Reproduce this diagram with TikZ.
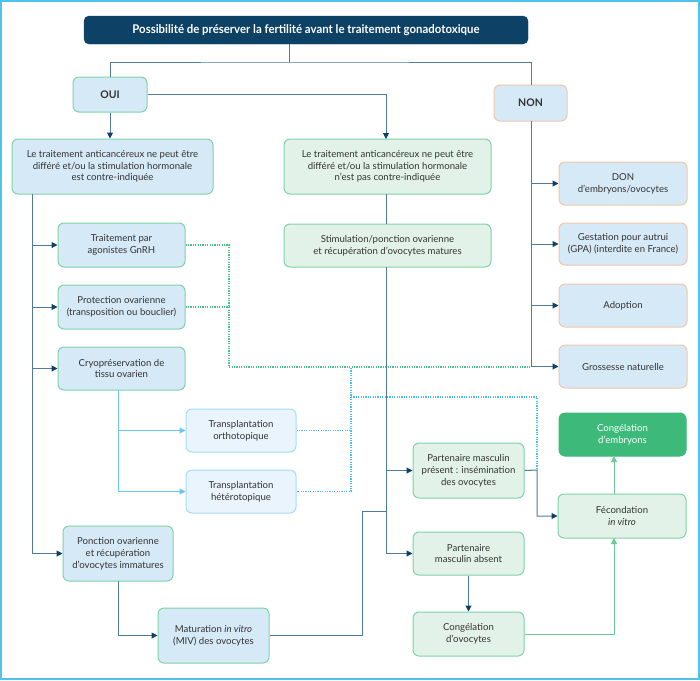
\documentclass[tikz,border=0pt]{standalone}
\usepackage{fontspec}
\setmainfont{Lato}
\usetikzlibrary{arrows.meta}
\definecolor{navy}{HTML}{0D4166}
\definecolor{steel}{HTML}{4F7A9A}
\definecolor{lblue}{HTML}{D6E9F7}
\definecolor{lgreen}{HTML}{E3F2E8}
\definecolor{bgreen}{HTML}{7DD3A5}
\definecolor{peach}{HTML}{F2C6A8}
\definecolor{pblue}{HTML}{EAF4FC}
\definecolor{pcyan}{HTML}{A3DCF5}
\definecolor{dgreen}{HTML}{3DB97A}
\definecolor{cyanln}{HTML}{6CC5EE}
\definecolor{greenln}{HTML}{6ACB98}
\definecolor{frame}{HTML}{4EC3EC}
\definecolor{gdots}{HTML}{4CC08A}
\definecolor{bdots}{HTML}{4DBDEB}
\definecolor{txt}{HTML}{333333}
\tikzset{
  box/.style={draw, rounded corners=6pt, align=center, inner sep=1pt, text=txt,
    font=\fontsize{9.6}{11.8}\selectfont, line width=1pt},
  blueg/.style={box, fill=lblue, draw=bgreen},
  greeng/.style={box, fill=lgreen, draw=bgreen},
  bluep/.style={box, fill=lblue, draw=peach},
  pale/.style={box, fill=pblue, draw=pcyan},
  ln/.style={draw=steel, line width=1pt},
  arr/.style={ln, -{Triangle[length=6pt,width=6pt,color=navy]}},
  carr/.style={draw=cyanln, line width=1pt, -{Triangle[length=6pt,width=6pt,color=cyanln]}},
  garr/.style={draw=greenln, line width=1pt, -{Triangle[length=6pt,width=6pt,color=greenln]}},
  gdot/.style={draw=gdots, line width=1.2pt, dash pattern=on 1.2pt off 1.2pt},
  bdot/.style={draw=bdots, line width=1.2pt, dash pattern=on 1.2pt off 1.2pt},
}
\begin{document}
\begin{tikzpicture}[x=1pt,y=-1pt]
\useasboundingbox (0,0) rectangle (700,680);
\draw[frame, line width=2pt] (1,1) rectangle (699,679);

\node[draw=navy, fill=navy, rounded corners=5pt, minimum width=444, minimum height=28, text=white,
  font=\fontsize{12}{14}\selectfont\bfseries] (title) at (306,30)
  {\scalebox{0.95}[1]{Possibilité de préserver la fertilité avant le traitement gonadotoxique}};

\node[blueg, minimum width=74, minimum height=35, font=\fontsize{10.5}{12}\selectfont\bfseries] (oui) at (110,94.5) {OUI};
\node[bluep, minimum width=73, minimum height=36, font=\fontsize{10.5}{12}\selectfont\bfseries] (non) at (530.5,103) {NON};

\node[blueg, minimum width=201, minimum height=55] (A) at (112.5,166.5)
  {Le traitement anticancéreux ne peut être\\différé et/ou la stimulation hormonale\\est contre-indiquée};
\node[greeng, minimum width=207, minimum height=55] (B) at (387.5,166.5)
  {Le traitement anticancéreux ne peut être\\différé et/ou la stimulation hormonale\\n’est pas contre-indiquée};

\node[blueg, minimum width=127, minimum height=44] (gnrh) at (121.5,245) {Traitement par\\agonistes GnRH};
\node[blueg, minimum width=127, minimum height=44] (prot) at (121.5,307) {Protection ovarienne\\(transposition ou bouclier)};
\node[blueg, minimum width=127, minimum height=43] (cryo) at (121.5,368.5) {Cryopréservation de\\tissu ovarien};
\node[pale, minimum width=110, minimum height=43] (ortho) at (241,430.5) {Transplantation\\orthotopique};
\node[pale, minimum width=110, minimum height=43] (hetero) at (241,491.5) {Transplantation\\hétérotopique};
\node[blueg, minimum width=110, minimum height=55] (ponc) at (118,553.5) {Ponction ovarienne\\et récupération\\d’ovocytes immatures};
\node[blueg, minimum width=111, minimum height=55] (miv) at (213.5,635.5) {Maturation \textit{in vitro}\\(MIV) des ovocytes};

\node[greeng, minimum width=207, minimum height=43] (stim) at (387.5,245.5) {Stimulation/ponction ovarienne\\et récupération d’ovocytes matures};
\node[greeng, minimum width=111, minimum height=55] (pres) at (468.5,470.5) {Partenaire masculin\\présent : insémination\\des ovocytes};
\node[greeng, minimum width=111, minimum height=43] (abs) at (468.5,553.5) {Partenaire\\masculin absent};
\node[greeng, minimum width=111, minimum height=44] (congo) at (468.5,634) {Congélation\\d’ovocytes};
\node[greeng, minimum width=128, minimum height=44] (fec) at (622,516) {Fécondation\\\textit{in vitro}};
\node[box, fill=dgreen, draw=dgreen, text=white, minimum width=127, minimum height=43] (conge) at (622.5,434.5) {Congélation\\d’embryons};

\node[bluep, minimum width=128, minimum height=43] (don) at (623,183.5) {DON\\d’embryons/ovocytes};
\node[bluep, minimum width=128, minimum height=42] (gpa) at (623,244) {Gestation pour autrui\\(GPA) (interdite en France)};
\node[bluep, minimum width=128, minimum height=43] (adop) at (623,305.5) {Adoption};
\node[bluep, minimum width=128, minimum height=43] (gross) at (623,366.5) {Grossesse naturelle};

% dotted links
\coordinate (g1) at (229,367);
\coordinate (g2) at (531,367);
\draw[gdot] (gnrh.east) -| (g1) -- (g2);
\draw[gdot] (prot.east) -- (prot.east -| g1);
\coordinate (b1) at (351,368);
\coordinate (b2) at (351,397);
\coordinate (b3) at (537,470);
\draw[bdot] (b1) |- (hetero.east);
\draw[bdot] (ortho.east) -- (ortho.east -| b1);
\draw[bdot] (b2) -| (b3);

% title connectors
\coordinate (j) at (289,62);
\coordinate (nt) at (531,85);
\draw[ln] (title.south -| j) -- (j);
\draw[ln] (oui.north) |- (j) -| (nt);
\draw[arr] (oui.south) -- (oui.south |- A.north);
\coordinate (bt) at (386,139);
\draw[arr] (oui.east) -| (bt);

% left trunk
\coordinate (ta) at (32,194);
\draw[arr] (ta) |- (ponc.west);
\draw[arr] (ta) |- (gnrh.west);
\draw[arr] (ta) |- (prot.west);
\draw[arr] (ta) |- (cryo.west);
\coordinate (tc) at (118,390);
\draw[carr] (tc) |- (ortho.west);
\draw[carr] (tc) |- (hetero.west);
\coordinate (tp) at (118,581);
\draw[arr] (tp) |- (miv.west);
\coordinate (m1) at (362,511);
\coordinate (m2) at (386,511);
\draw[ln] (miv.east) -| (m1) -- (m2);

% middle trunk
\coordinate (tb) at (386,194);
\coordinate (ts) at (386,224);
\draw[ln] (tb) -- (ts);
\coordinate (tm) at (386,267);
\draw[arr] (tm) |- (pres.west);
\draw[arr] (tm) |- (abs.west);
\draw[arr] (abs.south) -- (congo.north);
\coordinate (p1) at (537,470);
\draw[arr] (pres.east) -- (p1) |- (fec.west);
\coordinate (fs) at (614,538);
\coordinate (fn) at (614,494);
\coordinate (en) at (614,456);
\draw[garr] (congo.east) -| (fs);
\draw[garr] (fn) -- (en);

% right trunk
\coordinate (tn) at (531,121);
\draw[arr] (tn) |- (gross.west);
\draw[arr] (tn) |- (don.west);
\draw[arr] (tn) |- (gpa.west);
\draw[arr] (tn) |- (adop.west);
\end{tikzpicture}
\end{document}
